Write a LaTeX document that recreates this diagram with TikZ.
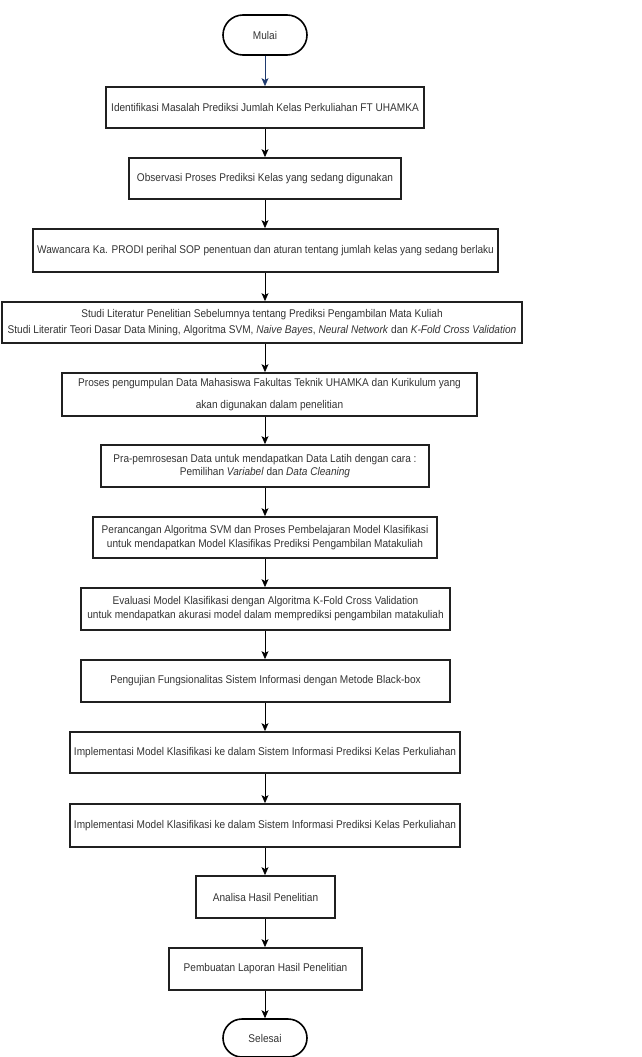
\documentclass[tikz,border=0pt]{standalone}
\usepackage{fontspec}
\setmainfont{Liberation Sans}[FakeStretch=0.9]
\usetikzlibrary{arrows.meta,shapes.misc}
\definecolor{edge}{HTML}{202020}
\definecolor{txt}{HTML}{333333}
\definecolor{navy}{HTML}{1F3A6E}
\begin{document}
\begin{tikzpicture}[x=1pt,y=-1pt,
  box/.style={draw=edge,line width=1.8pt,rectangle,inner sep=0pt,align=center,
    text=txt,font=\fontsize{11.2}{13.5}\selectfont},
  term/.style={draw=black,line width=1.6pt,rounded rectangle,inner sep=0pt,
    minimum width=84pt,text=txt,font=\fontsize{11.2}{13.5}\selectfont},
  arr/.style={draw=black,line width=0.8pt,-{Stealth[length=8pt,width=7pt,inset=2pt]}}]
\useasboundingbox (0,0) rectangle (641,1057);
\coordinate (axis) at (265,0);
\node[term,minimum height=40pt] (start) at (265,35) {Mulai};
\node[box,minimum width=318pt,minimum height=41pt] (b1) at (265,107.5) {Identifikasi Masalah Prediksi Jumlah Kelas Perkuliahan FT UHAMKA};
\node[box,minimum width=272pt,minimum height=41pt] (b2) at (265,178.5) {Observasi Proses Prediksi Kelas yang sedang digunakan};
\node[box,minimum width=465pt,minimum height=43pt] (b3) at (265.5,250.5) {Wawancara Ka. PRODI perihal SOP penentuan dan aturan tentang jumlah kelas yang sedang berlaku};
\node[box,minimum width=520pt,minimum height=41pt] (b4) at (262,322.5) {Studi Literatur Penelitian Sebelumnya tentang Prediksi Pengambilan Mata Kuliah\\[2pt]Studi Literatir Teori Dasar Data Mining, Algoritma SVM, \textit{Naive Bayes}, \textit{Neural Network} dan \textit{K-Fold Cross Validation}};
\node[box,minimum width=415pt,minimum height=43pt] (b5) at (269.5,394.5) {Proses pengumpulan Data Mahasiswa Fakultas Teknik UHAMKA dan Kurikulum yang\\[8pt]akan digunakan dalam penelitian};
\node[box,minimum width=328pt,minimum height=42pt] (b6) at (265,466) {Pra-pemrosesan Data untuk mendapatkan Data Latih dengan cara :\\Pemilihan \textit{Variabel} dan \textit{Data Cleaning}};
\node[box,minimum width=344pt,minimum height=41pt] (b7) at (265,537.5) {Perancangan Algoritma SVM dan Proses Pembelajaran Model Klasifikasi\\untuk mendapatkan Model Klasifikas Prediksi Pengambilan Matakuliah};
\node[box,minimum width=369pt,minimum height=42pt] (b8) at (265.5,609) {Evaluasi Model Klasifikasi dengan Algoritma K-Fold Cross Validation\\[0.5pt]untuk mendapatkan akurasi model dalam memprediksi pengambilan matakuliah};
\node[box,minimum width=369pt,minimum height=42pt] (b9) at (265.5,681) {Pengujian Fungsionalitas Sistem Informasi dengan Metode Black-box};
\node[box,minimum width=390pt,minimum height=41pt] (b10) at (265,752.5) {Implementasi Model Klasifikasi ke dalam Sistem Informasi Prediksi Kelas Perkuliahan};
\node[box,minimum width=390pt,minimum height=43pt] (b11) at (265,825.5) {Implementasi Model Klasifikasi ke dalam Sistem Informasi Prediksi Kelas Perkuliahan};
\node[box,minimum width=139pt,minimum height=42pt] (b12) at (265.5,897) {Analisa Hasil Penelitian};
\node[box,minimum width=193pt,minimum height=42pt] (b13) at (265.5,969) {Pembuatan Laporan Hasil Penelitian};
\node[term,minimum height=38pt] (end) at (265,1038) {Selesai};
\draw[arr,draw=navy,-{Stealth[length=8pt,width=7pt,inset=2pt]},color=navy] (start.south -| axis) -- (b1.north -| axis);
\foreach \a/\b in {b1/b2,b2/b3,b3/b4,b4/b5,b5/b6,b6/b7,b7/b8,b8/b9,b9/b10,b10/b11,b11/b12,b12/b13,b13/end}
  \draw[arr] (\a.south -| axis) -- (\b.north -| axis);
\end{tikzpicture}
\end{document}
